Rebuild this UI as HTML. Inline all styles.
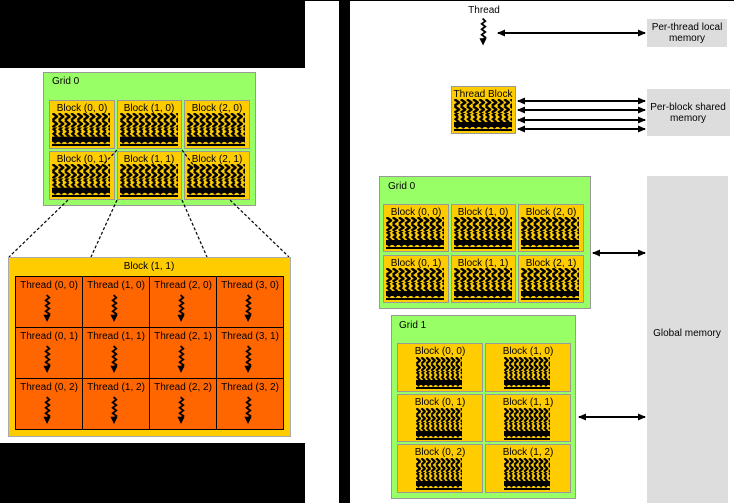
<!DOCTYPE html>
<html><head><meta charset="utf-8"><style>
html,body{margin:0;padding:0;background:#fff}
svg{display:block}
text{font-family:"Liberation Sans",sans-serif;font-size:10px;fill:#000}
</style></head><body>
<svg width="734" height="503" viewBox="0 0 734 503" xmlns="http://www.w3.org/2000/svg">
<defs>
<pattern id="chev" width="6" height="7" patternUnits="userSpaceOnUse">
<path d="M0.5,0.2 L4.8,3.5 L0.5,6.8" stroke="#000" stroke-width="2.4" fill="none"/>
</pattern>
<pattern id="sq" width="6" height="9" patternUnits="userSpaceOnUse">
<path d="M4,0 L1.5,2.2 L4.2,4.5 L1.5,6.8 L4,9" stroke="#000" stroke-width="2.2" fill="none"/>
</pattern>
<pattern id="saw" width="6" height="10" patternUnits="userSpaceOnUse">
<path d="M0,0 L6,0 L6,7 L3,10 L0,7 Z" fill="#000"/>
<path d="M1,0 L4,3" stroke="#000" stroke-width="2"/>
</pattern>
<symbol id="tex" viewBox="0 0 56 32" preserveAspectRatio="none">
<rect x="0" y="0" width="56" height="14" fill="url(#chev)"/>
<rect x="0" y="14" width="56" height="9" fill="url(#sq)"/>
<rect x="0" y="23" width="56" height="9" fill="url(#saw)"/>
<rect x="0" y="25" width="56" height="3" fill="#000"/>
</symbol>
<symbol id="thr" viewBox="0 0 10 30">
<path d="M4,0 L7,3 L3,6 L7,9 L3,12 L7,15 L3,18 L7,21 L4,24" stroke="#000" stroke-width="2" fill="none"/>
<path d="M0.5,22 L8.5,22 L4.5,30 Z" fill="#000"/>
</symbol>
<marker id="ah" markerWidth="8" markerHeight="7" refX="7" refY="3.5" orient="auto-start-reverse" markerUnits="userSpaceOnUse">
<path d="M0,0 L8,3.5 L0,7 Z" fill="#000"/>
</marker>
</defs>

<rect x="0" y="0" width="734" height="1" fill="#000"/>
<rect x="0" y="0" width="305" height="68" fill="#000"/>
<rect x="0" y="443" width="305" height="60" fill="#000"/>
<rect x="339" y="0" width="11" height="503" fill="#000"/>

<rect x="43.5" y="72.5" width="212" height="133" fill="#99ff66" stroke="#999"/>
<text x="52" y="84">Grid 0</text>
<g>
<rect x="49.5" y="100.5" width="65" height="48" fill="#ffcc00" stroke="#999"/>
<rect x="117.5" y="100.5" width="64" height="48" fill="#ffcc00" stroke="#999"/>
<rect x="184.5" y="100.5" width="65" height="48" fill="#ffcc00" stroke="#999"/>
<rect x="49.5" y="151.5" width="65" height="48" fill="#ffcc00" stroke="#999"/>
<rect x="117.5" y="151.5" width="64" height="48" fill="#ffcc00" stroke="#999"/>
<rect x="184.5" y="151.5" width="65" height="48" fill="#ffcc00" stroke="#999"/>
<text x="82" y="111" text-anchor="middle">Block (0, 0)</text>
<text x="149" y="111" text-anchor="middle">Block (1, 0)</text>
<text x="217" y="111" text-anchor="middle">Block (2, 0)</text>
<text x="82" y="162" text-anchor="middle">Block (0, 1)</text>
<text x="149" y="162" text-anchor="middle">Block (1, 1)</text>
<text x="217" y="162" text-anchor="middle">Block (2, 1)</text>
<use href="#tex" x="52" y="113" width="58" height="33"/>
<use href="#tex" x="120" y="113" width="58" height="33"/>
<use href="#tex" x="187" y="113" width="58" height="33"/>
<use href="#tex" x="52" y="164" width="58" height="33"/>
<use href="#tex" x="120" y="164" width="58" height="33"/>
<use href="#tex" x="187" y="164" width="58" height="33"/>
</g>
<g stroke="#000" stroke-width="1.2" stroke-dasharray="3,2" fill="none">
<line x1="68" y1="200" x2="9" y2="257"/>
<line x1="117" y1="200" x2="91" y2="257"/>
<line x1="182" y1="200" x2="207" y2="257"/>
<line x1="230" y1="200" x2="289" y2="257"/>
<line x1="117" y1="150" x2="100" y2="168"/>
<line x1="182" y1="150" x2="197" y2="170"/>
</g>

<rect x="8.5" y="257.5" width="282" height="179" fill="#ffcc00" stroke="#aaa"/>
<text x="149" y="269" text-anchor="middle">Block (1, 1)</text>
<rect x="15.5" y="276.5" width="268" height="153" fill="#ff6600" stroke="#000"/>
<g stroke="#000" stroke-width="1">
<line x1="82.5" y1="276" x2="82.5" y2="430"/>
<line x1="149.5" y1="276" x2="149.5" y2="430"/>
<line x1="216.5" y1="276" x2="216.5" y2="430"/>
<line x1="15" y1="327.5" x2="284" y2="327.5"/>
<line x1="15" y1="378.5" x2="284" y2="378.5"/>
</g>
<g text-anchor="middle">
<text x="49" y="288">Thread (0, 0)</text><text x="116" y="288">Thread (1, 0)</text><text x="183" y="288">Thread (2, 0)</text><text x="250" y="288">Thread (3, 0)</text>
<text x="49" y="339">Thread (0, 1)</text><text x="116" y="339">Thread (1, 1)</text><text x="183" y="339">Thread (2, 1)</text><text x="250" y="339">Thread (3, 1)</text>
<text x="49" y="390">Thread (0, 2)</text><text x="116" y="390">Thread (1, 2)</text><text x="183" y="390">Thread (2, 2)</text><text x="250" y="390">Thread (3, 2)</text>
</g>
<g>
<use href="#thr" x="43" y="293" width="9" height="31"/><use href="#thr" x="110" y="293" width="9" height="31"/><use href="#thr" x="177" y="293" width="9" height="31"/><use href="#thr" x="244" y="293" width="9" height="31"/>
<use href="#thr" x="43" y="344" width="9" height="31"/><use href="#thr" x="110" y="344" width="9" height="31"/><use href="#thr" x="177" y="344" width="9" height="31"/><use href="#thr" x="244" y="344" width="9" height="31"/>
<use href="#thr" x="43" y="395" width="9" height="31"/><use href="#thr" x="110" y="395" width="9" height="31"/><use href="#thr" x="177" y="395" width="9" height="31"/><use href="#thr" x="244" y="395" width="9" height="31"/>
</g>

<text x="484" y="13" text-anchor="middle">Thread</text>
<use href="#thr" x="479" y="17" width="9" height="30"/>
<line x1="498" y1="33" x2="645" y2="33" stroke="#000" stroke-width="2" marker-start="url(#ah)" marker-end="url(#ah)"/>
<rect x="647" y="19" width="80" height="28" fill="#ddd"/>
<text x="687" y="30" text-anchor="middle">Per-thread local</text>
<text x="687" y="41" text-anchor="middle">memory</text>

<rect x="451.5" y="86.5" width="64" height="47" fill="#ffcc00" stroke="#999"/>
<text x="483" y="97" text-anchor="middle">Thread Block</text>
<use href="#tex" x="454" y="99" width="58" height="32"/>
<g stroke="#000" stroke-width="2">
<line x1="518" y1="101" x2="645" y2="101" marker-start="url(#ah)" marker-end="url(#ah)"/>
<line x1="518" y1="110" x2="645" y2="110" marker-start="url(#ah)" marker-end="url(#ah)"/>
<line x1="518" y1="120" x2="645" y2="120" marker-start="url(#ah)" marker-end="url(#ah)"/>
<line x1="518" y1="129" x2="645" y2="129" marker-start="url(#ah)" marker-end="url(#ah)"/>
</g>
<rect x="647" y="89" width="83" height="47" fill="#ddd"/>
<text x="688" y="110" text-anchor="middle">Per-block shared</text>
<text x="688" y="121" text-anchor="middle">memory</text>

<rect x="647" y="176" width="81" height="327" fill="#ddd"/>
<text x="687" y="336" text-anchor="middle">Global memory</text>

<rect x="379.5" y="176.5" width="211" height="132" fill="#99ff66" stroke="#999"/>
<text x="388" y="189">Grid 0</text>
<g>
<rect x="383.5" y="204.5" width="65" height="47" fill="#ffcc00" stroke="#999"/>
<rect x="451.5" y="204.5" width="64" height="47" fill="#ffcc00" stroke="#999"/>
<rect x="518.5" y="204.5" width="65" height="47" fill="#ffcc00" stroke="#999"/>
<rect x="383.5" y="255.5" width="65" height="47" fill="#ffcc00" stroke="#999"/>
<rect x="451.5" y="255.5" width="64" height="47" fill="#ffcc00" stroke="#999"/>
<rect x="518.5" y="255.5" width="65" height="47" fill="#ffcc00" stroke="#999"/>
<text x="416" y="215" text-anchor="middle">Block (0, 0)</text>
<text x="483" y="215" text-anchor="middle">Block (1, 0)</text>
<text x="551" y="215" text-anchor="middle">Block (2, 0)</text>
<text x="416" y="266" text-anchor="middle">Block (0, 1)</text>
<text x="483" y="266" text-anchor="middle">Block (1, 1)</text>
<text x="551" y="266" text-anchor="middle">Block (2, 1)</text>
<use href="#tex" x="386" y="217" width="58" height="32"/>
<use href="#tex" x="454" y="217" width="58" height="32"/>
<use href="#tex" x="521" y="217" width="58" height="32"/>
<use href="#tex" x="386" y="268" width="58" height="32"/>
<use href="#tex" x="454" y="268" width="58" height="32"/>
<use href="#tex" x="521" y="268" width="58" height="32"/>
</g>
<line x1="593" y1="253" x2="645" y2="253" stroke="#000" stroke-width="2" marker-start="url(#ah)" marker-end="url(#ah)"/>

<rect x="391.5" y="315.5" width="184" height="183" fill="#99ff66" stroke="#999"/>
<text x="399" y="328">Grid 1</text>
<g>
<rect x="397.5" y="343.5" width="85" height="48" fill="#ffcc00" stroke="#999"/>
<rect x="485.5" y="343.5" width="85" height="48" fill="#ffcc00" stroke="#999"/>
<rect x="397.5" y="394.5" width="85" height="47" fill="#ffcc00" stroke="#999"/>
<rect x="485.5" y="394.5" width="85" height="47" fill="#ffcc00" stroke="#999"/>
<rect x="397.5" y="444.5" width="85" height="48" fill="#ffcc00" stroke="#999"/>
<rect x="485.5" y="444.5" width="85" height="48" fill="#ffcc00" stroke="#999"/>
<text x="440" y="354" text-anchor="middle">Block (0, 0)</text>
<text x="528" y="354" text-anchor="middle">Block (1, 0)</text>
<text x="440" y="405" text-anchor="middle">Block (0, 1)</text>
<text x="528" y="405" text-anchor="middle">Block (1, 1)</text>
<text x="440" y="455" text-anchor="middle">Block (0, 2)</text>
<text x="528" y="455" text-anchor="middle">Block (1, 2)</text>
<use href="#tex" x="416" y="357" width="46" height="32"/>
<use href="#tex" x="504" y="357" width="46" height="32"/>
<use href="#tex" x="416" y="408" width="46" height="32"/>
<use href="#tex" x="504" y="408" width="46" height="32"/>
<use href="#tex" x="416" y="458" width="46" height="32"/>
<use href="#tex" x="504" y="458" width="46" height="32"/>
</g>
<line x1="579" y1="417" x2="645" y2="417" stroke="#000" stroke-width="2" marker-start="url(#ah)" marker-end="url(#ah)"/>
</svg>
</body></html>
